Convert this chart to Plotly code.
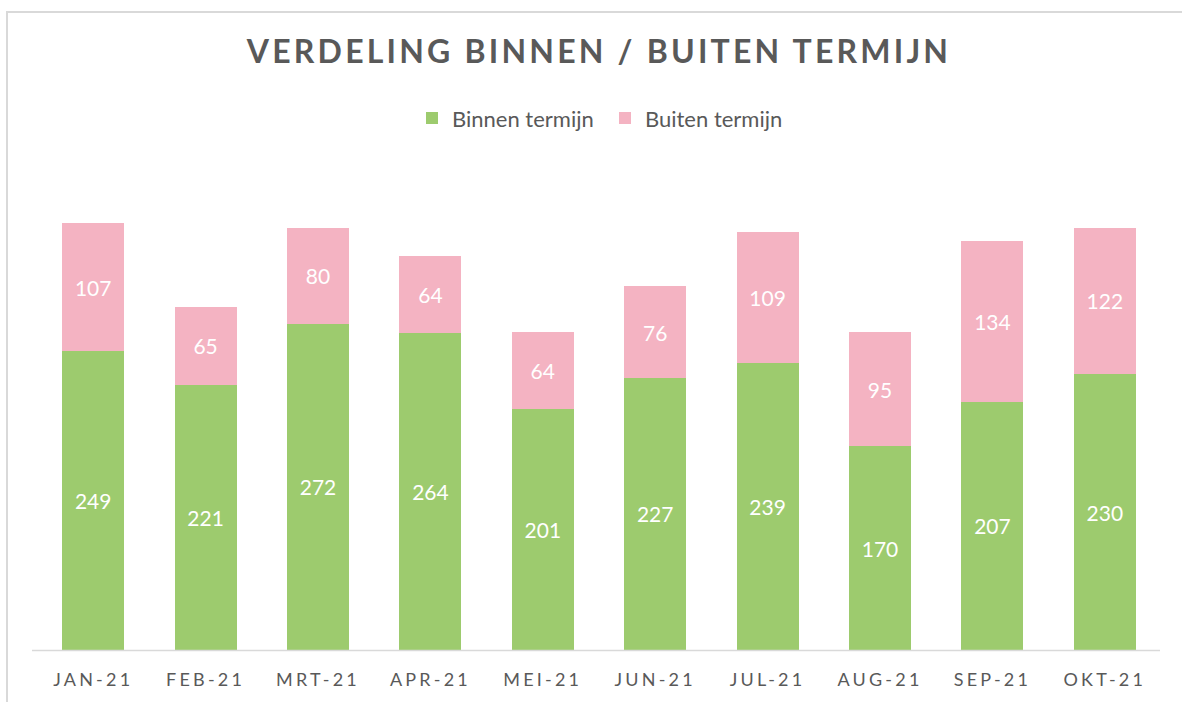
import plotly.graph_objects as go

months = ["JAN-21", "FEB-21", "MRT-21", "APR-21", "MEI-21", "JUN-21", "JUL-21", "AUG-21", "SEP-21", "OKT-21"]
binnen = [249, 221, 272, 264, 201, 227, 239, 170, 207, 230]
buiten = [107, 65, 80, 64, 64, 76, 109, 95, 134, 122]

GREEN = "#9DCB6E"
PINK = "#F4B3C2"
TXT = "#595959"
FONT = "Lato"

fig = go.Figure()
fig.add_bar(x=months, y=binnen, name="Binnen termijn", marker=dict(color=GREEN, line=dict(width=0)),
            text=binnen, textposition="inside", insidetextanchor="middle", textangle=0,
            textfont=dict(color="white", size=21, family=FONT))
fig.add_bar(x=months, y=buiten, name="Buiten termijn", marker=dict(color=PINK, line=dict(width=0)),
            text=buiten, textposition="inside", insidetextanchor="middle", textangle=0,
            textfont=dict(color="white", size=21, family=FONT))

W, H = 1182, 702
L, R, T, B = 37, 21, 170, 49
pw, ph = W - L - R, H - T - B

def px(x):
    return (x - L) / pw

def py(y):
    return (H - B - y) / ph

fig.update_layout(
    width=W, height=H,
    barmode="stack", bargap=0.45,
    margin=dict(l=L, r=R, t=T, b=B),
    paper_bgcolor="white", plot_bgcolor="white",
    font=dict(family=FONT, color=TXT),
    title=dict(text="<b>VERDELING BINNEN / BUITEN TERMIJN</b>", x=0.5, xanchor="center",
               xref="paper", yref="container", y=1 - 52 / H, yanchor="middle",
               font=dict(size=32, color=TXT, family=FONT)),
    legend=dict(orientation="h", x=px(412), xanchor="left", y=py(118), yanchor="middle",
                font=dict(size=22, color=TXT, family=FONT), traceorder="normal",
                itemwidth=30, entrywidth=148, bgcolor="rgba(0,0,0,0)"),
    xaxis=dict(showgrid=False, showline=False, ticks="", tickfont=dict(size=18, color=TXT, family=FONT),
               ticklabelstandoff=17),
    yaxis=dict(range=[0, 400], visible=False, showgrid=False, zeroline=False),
    shapes=[
        dict(type="line", xref="paper", yref="paper", x0=px(32), x1=px(1160), y0=py(653.5), y1=py(653.5),
             line=dict(color="#D9D9D9", width=1.5)),
        dict(type="rect", xref="paper", yref="paper", x0=px(7), x1=px(1200), y0=py(720), y1=py(11),
             line=dict(color="#D9D9D9", width=2), fillcolor="rgba(0,0,0,0)", layer="below"),
    ],
)

post = """
document.body.style.margin = '0';
var gd = document.getElementById('{plot_id}');
function ls(){
  document.querySelectorAll('.gtitle').forEach(function(e){e.style.letterSpacing='3.2px';});
  document.querySelectorAll('.xtick text').forEach(function(e){e.style.letterSpacing='3.2px';});
}
ls(); setTimeout(ls, 50); gd.on('plotly_afterplot', ls);
"""

fig.write_html("out.html", post_script=post, config={"displayModeBar": False})
